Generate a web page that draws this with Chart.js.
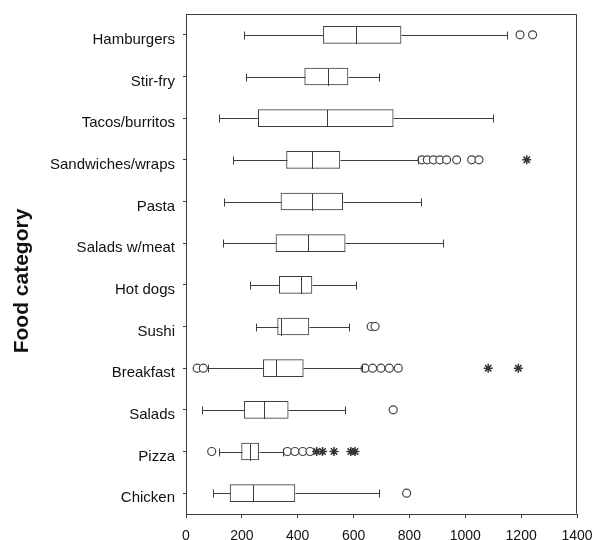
<!DOCTYPE html>
<html>
<head>
<meta charset="utf-8">
<script src="https://cdn.jsdelivr.net/npm/chart.js@4.4.1/dist/chart.umd.min.js"></script>
<style>
  html, body { margin: 0; padding: 0; background: #fff; }
  #wrap { width: 596px; height: 540px; position: relative; }
</style>
</head>
<body>
<div id="wrap"><canvas id="c" width="596" height="540"></canvas></div>
<script>
// ---- data ----
const categories = ['Hamburgers','Stir-fry','Tacos/burritos','Sandwiches/wraps','Pasta','Salads w/meat','Hot dogs','Sushi','Breakfast','Salads','Pizza','Chicken'];
const whiskerLow  = [209, 214, 119, 169, 137, 134, 229, 251,  80,  58, 119,  98];
const q1          = [492, 425, 259, 360, 340, 322, 334, 328, 277, 209, 199, 158];
const median      = [610, 508, 504, 452, 452, 436, 411, 340, 321, 279, 229, 239];
const q3          = [770, 580, 742, 551, 561, 570, 451, 440, 420, 366, 260, 390];
const whiskerHigh = [1150, 691, 1100, 830, 840, 921, 609, 585, 629, 568, 349, 692];
// outliers (circles) and extremes (asterisks): [category, value]
const outliers = [
  ['Hamburgers', 1196], ['Hamburgers', 1241],
  ['Sandwiches/wraps', 845], ['Sandwiches/wraps', 864], ['Sandwiches/wraps', 886], ['Sandwiches/wraps', 909],
  ['Sandwiches/wraps', 933], ['Sandwiches/wraps', 969], ['Sandwiches/wraps', 1023], ['Sandwiches/wraps', 1049],
  ['Sushi', 663], ['Sushi', 677],
  ['Breakfast', 40], ['Breakfast', 62], ['Breakfast', 641], ['Breakfast', 668], ['Breakfast', 698],
  ['Breakfast', 728], ['Breakfast', 760],
  ['Salads', 742],
  ['Pizza', 92], ['Pizza', 363], ['Pizza', 390], ['Pizza', 418], ['Pizza', 444],
  ['Chicken', 790]
];
const extremes = [
  ['Sandwiches/wraps', 1220],
  ['Breakfast', 1082], ['Breakfast', 1190],
  ['Pizza', 468], ['Pizza', 489], ['Pizza', 530], ['Pizza', 590], ['Pizza', 605]
];
const xTicks = [0, 200, 400, 600, 800, 1000, 1200, 1400];
const axisTitleY = 'Food category';

// ---- styling ----
const FONT = '"Liberation Sans", Arial, Helvetica, sans-serif';
const LINE = '#3c3c3c';
const TEXT = '#111111';

const boxParts = {
  id: 'boxParts',
  afterDatasetsDraw(chart) {
    const {ctx, scales: {x, y}, chartArea} = chart;
    const meta = chart.getDatasetMeta(0);
    ctx.save();
    ctx.strokeStyle = LINE;
    ctx.lineWidth = 1;
    const cap = 4;
    const px = v => Math.round(x.getPixelForValue(v)) + 0.5;
    categories.forEach((c, i) => {
      const yc = Math.round(y.getPixelForValue(i)) + 0.5;
      const bar = meta.data[i];
      const h = bar.getProps(['height'], true).height;
      ctx.beginPath();
      ctx.moveTo(px(whiskerLow[i]), yc); ctx.lineTo(px(q1[i]), yc);
      ctx.moveTo(px(q3[i]), yc); ctx.lineTo(px(whiskerHigh[i]), yc);
      ctx.moveTo(px(whiskerLow[i]), yc - cap); ctx.lineTo(px(whiskerLow[i]), yc + cap);
      ctx.moveTo(px(whiskerHigh[i]), yc - cap); ctx.lineTo(px(whiskerHigh[i]), yc + cap);
      ctx.moveTo(px(median[i]), yc - h / 2); ctx.lineTo(px(median[i]), yc + h / 2);
      ctx.stroke();
    });
    // frame: top and right
    ctx.beginPath();
    const l = Math.round(chartArea.left) + 0.5, r = Math.round(chartArea.right) - 0.5;
    const t = Math.round(chartArea.top) + 0.5, b = Math.round(chartArea.bottom) - 0.5;
    ctx.moveTo(l, t); ctx.lineTo(r, t); ctx.lineTo(r, b);
    ctx.stroke();
    // y-axis title
    ctx.fillStyle = TEXT;
    ctx.font = 'bold 21px ' + FONT;
    ctx.textAlign = 'center';
    ctx.textBaseline = 'middle';
    ctx.translate(22, 281);
    ctx.rotate(-Math.PI / 2);
    ctx.fillText(axisTitleY, 0, 0);
    ctx.restore();
  }
};

new Chart(document.getElementById('c'), {
  type: 'bar',
  data: {
    labels: categories,
    datasets: [
      {
        type: 'bar',
        data: categories.map((c, i) => [q1[i], q3[i]]),
        backgroundColor: '#ffffff',
        borderColor: LINE,
        borderWidth: 1,
        borderSkipped: false,
        barThickness: 17,
        order: 2
      },
      {
        type: 'scatter',
        data: outliers.map(o => ({x: o[1], y: o[0]})),
        pointStyle: 'circle',
        pointRadius: 4,
        pointBackgroundColor: '#ffffff',
        pointBorderColor: '#444444',
        pointBorderWidth: 1.2,
        showLine: false,
        order: 1
      },
      {
        type: 'scatter',
        data: extremes.map(o => ({x: o[1], y: o[0]})),
        pointStyle: 'star',
        pointRadius: 4.5,
        pointBorderColor: '#333333',
        pointBorderWidth: 1.5,
        showLine: false,
        order: 0
      }
    ]
  },
  options: {
    indexAxis: 'y',
    responsive: false,
    animation: false,
    devicePixelRatio: 1,
    layout: { padding: { top: 14, right: 19, left: 0, bottom: 0 } },
    plugins: { legend: { display: false }, tooltip: { enabled: false } },
    scales: {
      x: {
        type: 'linear',
        min: 0, max: 1400,
        afterBuildTicks(s) { s.ticks = xTicks.map(v => ({value: v})); },
        grid: { drawOnChartArea: false, drawTicks: true, tickLength: 4, color: LINE },
        border: { display: true, color: LINE, width: 1 },
        ticks: { color: TEXT, font: { family: FONT, size: 14 }, padding: 10, maxRotation: 0,
                 callback: v => String(v) },
        afterFit(s) { s.height = 26; s.paddingLeft = 0; s.paddingRight = 0; }
      },
      y: {
        type: 'category',
        offset: true,
        grid: { drawOnChartArea: false, drawTicks: true, tickLength: 3, color: LINE, offset: false },
        border: { display: true, color: LINE, width: 1 },
        ticks: { color: TEXT, font: { family: FONT, size: 15 }, padding: 8, labelOffset: 5 },
        title: { display: false },
        afterFit(s) { s.width = 186; s.paddingTop = 0; s.paddingBottom = 0; }
      }
    }
  },
  plugins: [boxParts]
});
</script>
</body>
</html>
